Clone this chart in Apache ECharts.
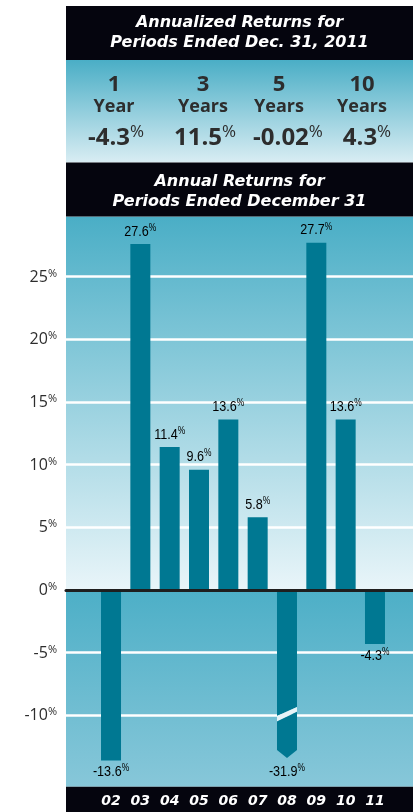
<!DOCTYPE html>
<html>
<head>
<meta charset="utf-8">
<script src="https://cdn.jsdelivr.net/npm/echarts@6/dist/echarts.min.js"></script>
<style>
  html, body { margin: 0; padding: 0; background: #ffffff; }
  #chart { width: 413px; height: 812px; }
</style>
</head>
<body>
<div id="chart"></div>
<script>
// Calendar-year returns, 2002-2011
const years = ['02', '03', '04', '05', '06', '07', '08', '09', '10', '11'];
const annualReturns = [-13.6, 27.6, 11.4, 9.6, 13.6, 5.8, -31.9, 27.7, 13.6, -4.3];

// Annualized returns summary
const periodLengths = ['1', '3', '5', '10'];
const periodUnits = ['Year', 'Years', 'Years', 'Years'];
const annualizedReturns = [-4.3, 11.5, -0.02, 4.3];

// Value axis range and step (percent)
const axisMin = -15;
const axisMax = 30;
const axisStep = 5;

// Headings
const summaryTitle = ['Annualized Returns for', 'Periods Ended Dec. 31, 2011'];
const chartTitle = ['Annual Returns for', 'Periods Ended December 31'];

// ---- styling / layout ----
const DARK = '#05050e';
const BAR = '#007892';
const TEXT = '#2d2d2d';
const PANEL_X = 66;
const PANEL_W = 413 - PANEL_X;
const GRID_TOP = 214;
const GRID_BOTTOM = 34;
const BAR_W = 20;
const TIP_VALUE = -13.4;     // where a bar running past the axis floor is cut off
const BREAK_VALUE = -10;     // where the break mark is drawn on such a bar
const SANS = '"Open Sans", "Noto Sans", sans-serif';
const HEAD = '"DejaVu Sans", "Open Sans", sans-serif';
const LABEL = '"Liberation Sans", Arial, sans-serif';

const colX = [114, 203, 279, 362];
const valX = [116, 205, 288, 367];

const pct = v => String(v);

const chart = echarts.init(document.getElementById('chart'), null, { renderer: 'canvas' });

const barLabelRich = {
  n: { fontFamily: LABEL, fontSize: 15, color: TEXT, lineHeight: 16, verticalAlign: 'bottom' },
  p: { fontFamily: LABEL, fontSize: 10, color: TEXT, lineHeight: 16, verticalAlign: 'top' }
};

// value label drawn in a condensed width
function barText(text, x, y, vAlign) {
  return {
    type: 'text', x, y, scaleX: 0.84,
    style: { text, rich: barLabelRich, x: 0, y: 0, align: 'center', verticalAlign: vAlign }
  };
}

function renderBar(params, api) {
  const idx = api.value(0);
  const v = api.value(1);
  const base = api.coord([idx, 0]);
  const x = base[0], y0 = base[1];
  const h = BAR_W / 2;
  const kids = [];
  const text = '{n|' + pct(v) + '}{p|%}';
  if (v >= axisMin) {
    const y1 = api.coord([idx, v])[1];
    kids.push({
      type: 'rect',
      shape: { x: x - h, y: Math.min(y0, y1), width: BAR_W, height: Math.abs(y1 - y0) },
      style: { fill: BAR }
    });
    kids.push(v >= 0 ? barText(text, x, y1 - 5, 'bottom') : barText(text, x, y1 + 3, 'top'));
  } else {
    const yTip = api.coord([idx, TIP_VALUE])[1];
    const yB = api.coord([idx, BREAK_VALUE])[1];
    kids.push({
      type: 'polygon',
      shape: { points: [[x - h, y0], [x + h, y0], [x + h, yB - 8.3], [x - h, yB + 0.7]] },
      style: { fill: BAR }
    });
    kids.push({
      type: 'polygon',
      shape: { points: [[x - h, yB + 0.7], [x + h, yB - 8.3], [x + h, yB - 3.6], [x - h, yB + 6.2]] },
      style: { fill: '#e6f3f7' }
    });
    kids.push({
      type: 'polygon',
      shape: { points: [[x - h, yB + 6.2], [x + h, yB - 3.6], [x + h, yTip - 8], [x, yTip], [x - h, yTip - 8]] },
      style: { fill: BAR }
    });
    kids.push(barText(text, x, yTip + 5, 'top'));
  }
  return { type: 'group', children: kids };
}

chart.setOption({
  animation: false,
  backgroundColor: '#ffffff',
  grid: [
    { left: PANEL_X, right: 0, top: GRID_TOP, bottom: GRID_BOTTOM, containLabel: false },
    { left: 96.35, width: 293.3, top: GRID_TOP, bottom: GRID_BOTTOM, containLabel: false }
  ],
  xAxis: [
    {
      gridIndex: 0, type: 'value', min: 0, max: 1, z: 10,
      axisLine: { show: true, onZero: true, lineStyle: { color: '#1e1e1e', width: 3 } },
      axisTick: { show: false }, axisLabel: { show: false }, splitLine: { show: false }
    },
    {
      gridIndex: 1, type: 'category', data: years, position: 'bottom',
      axisLine: { show: false, onZero: false }, axisTick: { show: false },
      axisLabel: {
        color: '#ffffff', fontFamily: HEAD, fontWeight: 'bold', fontStyle: 'italic',
        fontSize: 14, margin: 15, lineHeight: 16
      },
      z: 20
    }
  ],
  yAxis: [
    {
      gridIndex: 0, type: 'value', min: axisMin, max: axisMax, interval: axisStep,
      axisLine: { show: false }, axisTick: { show: false },
      axisLabel: {
        margin: 9, showMinLabel: false, showMaxLabel: false,
        formatter: v => '{n|' + v + '}{p|%}',
        rich: {
          n: { fontFamily: SANS, fontSize: 16, color: TEXT, lineHeight: 17, verticalAlign: 'bottom' },
          p: { fontFamily: SANS, fontSize: 11, color: TEXT, lineHeight: 17, verticalAlign: 'top' }
        }
      },
      splitLine: { show: true, showMinLine: false, showMaxLine: false, lineStyle: { color: '#ffffff', width: 2.5 } }
    },
    {
      gridIndex: 1, type: 'value', min: axisMin, max: axisMax, interval: axisStep, show: false
    }
  ],
  series: [
    {
      type: 'custom',
      xAxisIndex: 1, yAxisIndex: 1,
      data: annualReturns.map((v, i) => [i, v]),
      encode: { x: 0, y: 1 },
      renderItem: renderBar,
      z: 5
    }
  ]
});

// Panel backgrounds, headings and the annualized summary
const zeroY = chart.convertToPixel({ yAxisIndex: 0 }, 0);
const CHART_TOP = 216.5, CHART_BOTTOM = 786.7;

function grad(c0, c1) {
  return new echarts.graphic.LinearGradient(0, 0, 0, 1, [
    { offset: 0, color: c0 }, { offset: 1, color: c1 }
  ]);
}

const titleStyle = (text, x, y) => ({
  type: 'text', z: 101,
  style: {
    text, x, y, align: 'center', verticalAlign: 'middle',
    fill: '#ffffff', fontFamily: HEAD, fontWeight: 'bold', fontStyle: 'italic', fontSize: 16
  }
});

const cx = PANEL_X + PANEL_W / 2;
const elements = [
  { type: 'rect', z: -10, shape: { x: PANEL_X, y: CHART_TOP, width: PANEL_W, height: zeroY - CHART_TOP }, style: { fill: grad('#4aaec6', '#e9f5f9') } },
  { type: 'rect', z: -10, shape: { x: PANEL_X, y: zeroY, width: PANEL_W, height: CHART_BOTTOM - zeroY }, style: { fill: grad('#4daFc7', '#87c7d9') } },
  { type: 'rect', z: 100, shape: { x: PANEL_X, y: 6, width: PANEL_W, height: 54 }, style: { fill: DARK } },
  { type: 'rect', z: 100, shape: { x: PANEL_X, y: 60, width: PANEL_W, height: 102.5 }, style: { fill: grad('#4aaec6', '#d9edf3') } },
  { type: 'rect', z: 100, shape: { x: PANEL_X, y: 162.5, width: PANEL_W, height: CHART_TOP - 162.5 }, style: { fill: DARK } },
  { type: 'rect', z: 10, shape: { x: PANEL_X, y: CHART_BOTTOM, width: PANEL_W, height: 812 - CHART_BOTTOM }, style: { fill: DARK } },
  titleStyle(summaryTitle[0], cx, 22.5),
  titleStyle(summaryTitle[1], cx, 42.5),
  titleStyle(chartTitle[0], cx, 181.5),
  titleStyle(chartTitle[1], cx, 201.5)
];

periodLengths.forEach((p, i) => {
  elements.push({
    type: 'text', z: 101,
    style: { text: p, x: colX[i], y: 85, align: 'center', verticalAlign: 'middle', fill: TEXT, fontFamily: SANS, fontWeight: 'bold', fontSize: 22 }
  });
  elements.push({
    type: 'text', z: 101,
    style: { text: periodUnits[i], x: colX[i], y: 107, align: 'center', verticalAlign: 'middle', fill: TEXT, fontFamily: SANS, fontWeight: 'bold', fontSize: 18 }
  });
  elements.push({
    type: 'text', z: 101,
    style: {
      text: '{n|' + pct(annualizedReturns[i]) + '}{p|%}', x: valX[i], y: 137, align: 'center', verticalAlign: 'middle',
      rich: {
        n: { fontFamily: SANS, fontWeight: 'bold', fontSize: 24, fill: TEXT, color: TEXT, lineHeight: 26, verticalAlign: 'bottom' },
        p: { fontFamily: SANS, fontSize: 17, fill: TEXT, color: TEXT, lineHeight: 26, verticalAlign: 'top' }
      }
    }
  });
});

chart.setOption({ graphic: { elements } });
</script>
</body>
</html>
